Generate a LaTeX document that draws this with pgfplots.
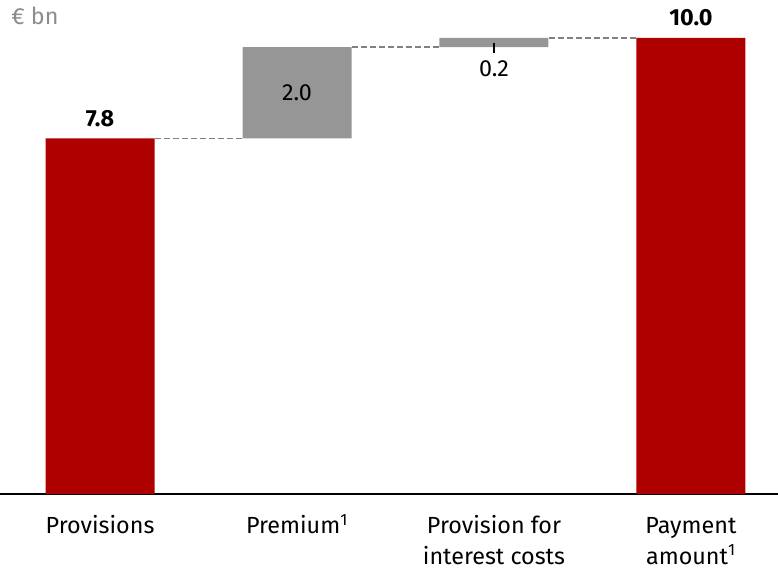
\documentclass[border=0pt]{standalone}
\usepackage{pgfplots}
\pgfplotsset{compat=1.18}
\usepackage{fontspec}
\setmainfont{Fira Sans}
\definecolor{dbred}{HTML}{AF0000}
\definecolor{dbgray}{HTML}{969696}
\definecolor{dashgray}{HTML}{808080}
\definecolor{unitgray}{HTML}{8C8C8C}
\newcommand{\lblfont}{\fontsize{17.5}{23}\selectfont}
\begin{document}
\begin{tikzpicture}
\begin{axis}[
  scale only axis,
  width=583.5pt, height=370.5pt,
  xmin=-0.508, xmax=3.442,
  ymin=0, ymax=10.833,
  axis x line=bottom, axis y line=none,
  axis line style={-, line width=1.5pt, black},
  xtick={0,1,2,3},
  xticklabels={\strut Provisions, \strut Premium\textsuperscript{1}, \strut Provision for\\interest costs, \strut Payment\\amount\textsuperscript{1}},
  xticklabel style={align=center, font=\lblfont, anchor=north, yshift=-10pt},
  major tick length=0pt,
  ytick=\empty,
  ybar stacked, bar width=81.75pt,
  clip=false,
]
\addplot[draw=none, fill=none] coordinates {(0,0) (1,7.8) (2,9.8) (3,0)};
\addplot[draw=none, fill=dbred] coordinates {(0,7.8) (1,0) (2,0) (3,10.0)};
\addplot[draw=none, fill=dbgray] coordinates {(0,0) (1,2.0) (2,0.2) (3,0)};
\end{axis}
\begin{axis}[
  scale only axis,
  width=583.5pt, height=370.5pt,
  xmin=-0.508, xmax=3.442,
  ymin=0, ymax=10.833,
  hide axis, clip=false,
]
\addplot[dashgray, dash pattern=on 4.5pt off 2.25pt, line width=0.9pt] coordinates {(0.277,7.8) (0.723,7.8)};
\addplot[dashgray, dash pattern=on 4.5pt off 2.25pt, line width=0.9pt] coordinates {(1.277,9.8) (1.723,9.8)};
\addplot[dashgray, dash pattern=on 4.5pt off 2.25pt, line width=0.9pt] coordinates {(2.277,10.0) (2.723,10.0)};
\draw[black, line width=0.9pt] (axis cs:2,9.9) -- (axis cs:2,9.68);
\node[font=\lblfont\bfseries, anchor=base, yshift=9pt] at (axis cs:0,7.8) {7.8};
\node[font=\lblfont\bfseries, anchor=base, yshift=9pt] at (axis cs:3,10.0) {10.0};
\node[font=\lblfont] at (axis cs:1,8.8) {2.0};
\node[font=\lblfont, anchor=base] at (axis cs:2,9.145) {0.2};
\node[font=\lblfont, text=unitgray, anchor=base west, inner sep=0pt] at (axis cs:-0.452,10.285) {€ bn};
\end{axis}
\pgfresetboundingbox
\useasboundingbox (0,-57.75pt) rectangle (583.5pt,370.5pt);
\end{tikzpicture}
\end{document}
